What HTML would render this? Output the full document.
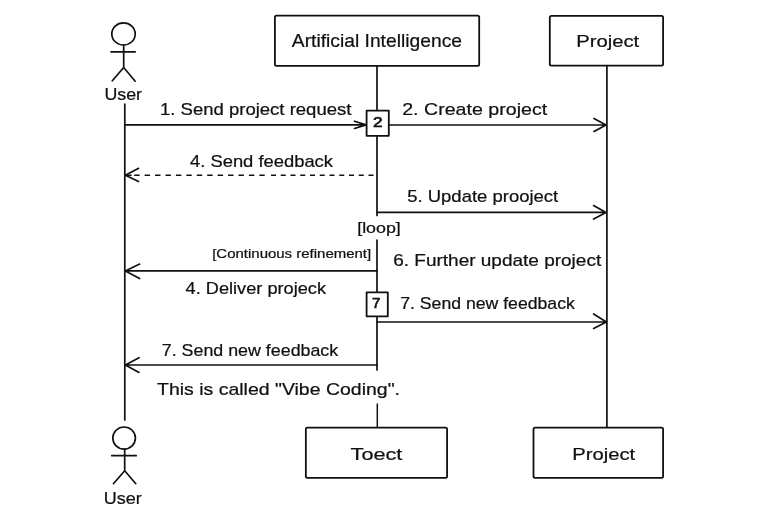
<!DOCTYPE html>
<html lang="en">
<head>
<meta charset="utf-8">
<title>Vibe Coding sequence diagram</title>
<style>
  html, body { margin: 0; padding: 0; background: #ffffff; }
  body { width: 780px; height: 520px; overflow: hidden; }
  svg { display: block; }
  .ln { stroke: #101010; stroke-width: 1.7; fill: none; stroke-linecap: round; stroke-linejoin: round; }
  .bx { stroke: #101010; stroke-width: 1.8; fill: #ffffff; stroke-linejoin: round; }
  text { font-family: "Liberation Sans", sans-serif; fill: #101010; stroke: #101010; stroke-width: 0.22; }
  .t  { font-size: 17px; }
  .s  { font-size: 12.5px; }
  .m  { font-size: 14.4px; }
  .n  { font-size: 15.5px; stroke: #101010; stroke-width: 0.7; }
  .a  { font-size: 19px; }
  svg { filter: grayscale(1); }
</style>
</head>
<body>
<svg width="780" height="520" viewBox="0 0 780 520">
  <rect x="0" y="0" width="780" height="520" fill="#ffffff"/>

  <!-- lifelines -->
  <path class="ln" d="M124.8 104 L124.8 420"/>
  <path class="ln" d="M377 65.8 L377 215.4"/>
  <path class="ln" d="M377 240 L377 370"/>
  <path class="ln" d="M377.3 404 L377.3 427.6" style="stroke-width:1.5"/>
  <path class="ln" d="M606.9 65.6 L606.9 427.7"/>

  <!-- top actor -->
  <ellipse class="ln" cx="123.5" cy="33.9" rx="11.7" ry="11.1"/>
  <path class="ln" d="M123.7 45 L123.7 67.5 M111 51.8 L135.2 51.8 M123.7 67.5 L112.3 80.8 M123.7 67.5 L135.2 81.2"/>
  <text class="t" x="104.4" y="100" textLength="37.6" lengthAdjust="spacingAndGlyphs">User</text>

  <!-- bottom actor -->
  <ellipse class="ln" cx="124.1" cy="438.1" rx="11.3" ry="11.1"/>
  <path class="ln" d="M124.7 449.2 L124.7 470.8 M111.8 455.7 L136.2 455.7 M124.7 470.8 L113.4 483.7 M124.7 470.8 L135.8 483.7"/>
  <text class="t" x="103.8" y="503.6" textLength="38" lengthAdjust="spacingAndGlyphs">User</text>

  <!-- top boxes -->
  <rect class="bx" x="274.9" y="15.6" width="204.3" height="50.2" rx="1.6"/>
  <text class="a" x="291.8" y="47" textLength="170.2" lengthAdjust="spacingAndGlyphs">Artificial Intelligence</text>
  <rect class="bx" x="549.8" y="15.8" width="113.3" height="49.8" rx="1.6"/>
  <text class="t" x="576.2" y="47" textLength="63" lengthAdjust="spacingAndGlyphs">Project</text>

  <!-- bottom boxes -->
  <rect class="bx" x="305.85" y="427.7" width="141.25" height="50.15" rx="1.6"/>
  <text class="t" x="350.6" y="459.6" textLength="51.8" lengthAdjust="spacingAndGlyphs">Toect</text>
  <rect class="bx" x="533.5" y="427.7" width="129.6" height="50.1" rx="1.6"/>
  <text class="t" x="572.2" y="459.6" textLength="63" lengthAdjust="spacingAndGlyphs">Project</text>

  <!-- 1. Send project request -->
  <path class="ln" d="M124.8 124.9 L366 124.9 M354.5 121.2 L366 124.9 L354.5 128.5"/>
  <text class="t" x="160" y="114.7" textLength="191.4" lengthAdjust="spacingAndGlyphs">1. Send project request</text>

  <!-- 2. Create project -->
  <path class="ln" d="M388.6 125 L606 125 M594 118.4 L606 125 L594 131.4"/>
  <text class="t" x="402.2" y="114.8" textLength="145" lengthAdjust="spacingAndGlyphs">2. Create project</text>
  <rect class="bx" x="366.6" y="110.6" width="22.2" height="25.2"/>
  <text class="n" x="373" y="127.2" textLength="9.6" lengthAdjust="spacingAndGlyphs">2</text>

  <!-- 4. Send feedback (dashed) -->
  <path class="ln" d="M134.2 175.2 L265.6 175.2" style="stroke-dasharray:5.4 5.03;stroke-linecap:butt;stroke-width:1.5"/>
  <path class="ln" d="M373.5 175.2 L270.5 175.2" style="stroke-dasharray:5 4.75;stroke-linecap:butt;stroke-width:1.5"/>
  <path class="ln" d="M126 175.2 L131 175.2" style="stroke-width:1.5"/>
  <path class="ln" d="M138.6 168.3 L125.4 175.2 L138.6 181.4"/>
  <text class="t" x="190" y="167.4" textLength="143" lengthAdjust="spacingAndGlyphs">4. Send feedback</text>

  <!-- 5. Update prooject -->
  <path class="ln" d="M377 212.4 L606 212.4 M593.6 205.6 L606 212.4 L593.6 219"/>
  <text class="t" x="407.2" y="201.6" textLength="151" lengthAdjust="spacingAndGlyphs">5. Update prooject</text>

  <!-- [loop] -->
  <text class="m" x="357.2" y="232.7" textLength="43.6" lengthAdjust="spacingAndGlyphs">[loop]</text>

  <!-- [Continuous refinement] -->
  <text class="s" x="212.2" y="258.3" textLength="159" lengthAdjust="spacingAndGlyphs">[Continuous refinement]</text>

  <!-- arrow to user (4. Deliver projeck) -->
  <path class="ln" d="M377 270.9 L125.4 270.9 M139.6 264.1 L125.4 270.9 L139.6 278.5"/>
  <text class="t" x="185.6" y="293.6" textLength="140.4" lengthAdjust="spacingAndGlyphs">4. Deliver projeck</text>

  <!-- 6. Further update project -->
  <text class="t" x="393.2" y="266.4" textLength="208" lengthAdjust="spacingAndGlyphs">6. Further update project</text>

  <!-- 7 box and 7. Send new feedback (right) -->
  <path class="ln" d="M377 322 L606.4 322 M593.6 314 L606.4 322 L593.6 328.4"/>
  <rect class="bx" x="366.6" y="292.3" width="21.2" height="24"/>
  <text class="n" x="372" y="308" textLength="8.4" lengthAdjust="spacingAndGlyphs">7</text>
  <text class="t" x="400.2" y="308.5" textLength="174.6" lengthAdjust="spacingAndGlyphs">7. Send new feedback</text>

  <!-- 7. Send new feedback (left) -->
  <path class="ln" d="M377 365 L125.4 365 M139 357.7 L125.4 365 L139 372.4"/>
  <text class="t" x="161.8" y="356" textLength="176.4" lengthAdjust="spacingAndGlyphs">7. Send new feedback</text>

  <!-- caption -->
  <text class="t" x="157" y="394.8" textLength="243" lengthAdjust="spacingAndGlyphs">This is called "Vibe Coding".</text>
</svg>
</body>
</html>
